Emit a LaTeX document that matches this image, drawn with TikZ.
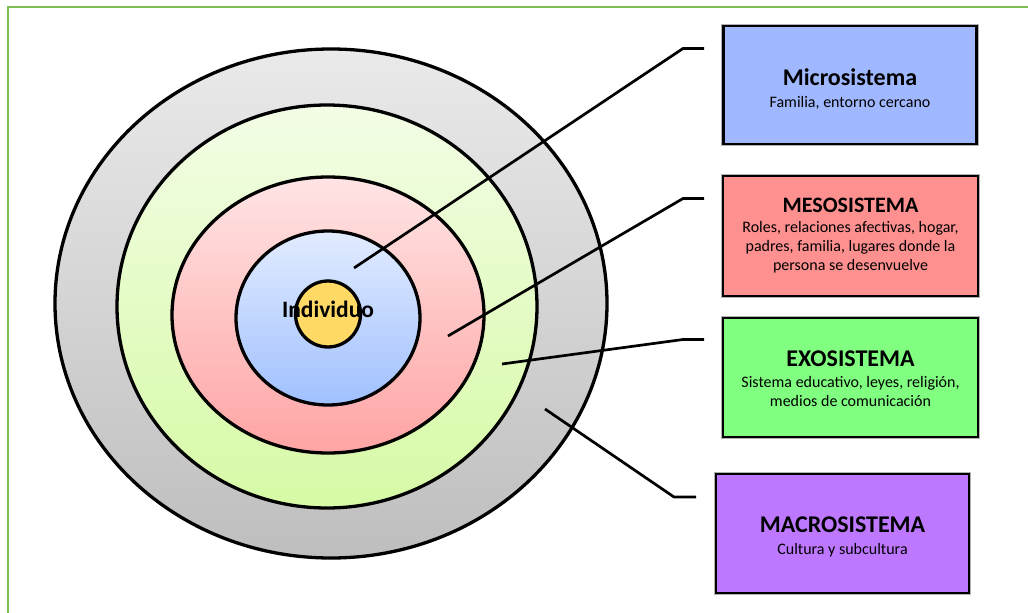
\documentclass[tikz,border=0pt]{standalone}
\usepackage{fontspec}
\setmainfont{Carlito}
\usetikzlibrary{shapes.geometric}
\definecolor{frameg}{RGB}{125,190,85}
\definecolor{grayT}{RGB}{234,234,234}
\definecolor{grayB}{RGB}{190,190,190}
\definecolor{greenT}{RGB}{243,253,230}
\definecolor{greenB}{RGB}{214,250,165}
\definecolor{pinkT}{RGB}{255,228,228}
\definecolor{pinkB}{RGB}{255,164,164}
\definecolor{blueT}{RGB}{226,236,255}
\definecolor{blueB}{RGB}{160,192,255}
\definecolor{yel}{RGB}{255,217,102}
\definecolor{microC}{RGB}{160,184,255}
\definecolor{mesoC}{RGB}{255,144,144}
\definecolor{exoC}{RGB}{128,255,128}
\definecolor{macroC}{RGB}{190,120,255}
\newcommand{\ttlfont}{\fontsize{24}{27}\selectfont\bfseries}
\newcommand{\bodyfont}{\fontsize{16}{19}\selectfont}
\tikzset{
  ring/.style={ellipse, draw=black, line width=3.3pt, inner sep=0pt, outer sep=0pt},
  sysbox/.style={rectangle, draw=black, line width=2.6pt, inner sep=0pt,
    preaction={draw=black!30, line width=4.2pt}},
  boxtext/.style={align=center, text=black, inner sep=0pt, font=\bodyfont},
  conn/.style={draw=black, line width=2.7pt},
}
\begin{document}
\begin{tikzpicture}[x=1pt,y=-1pt]
\useasboundingbox (0,0) rectangle (1028,613);
\clip (0,0) rectangle (1028,613);
\fill[white] (0,0) rectangle (1028,613);
\draw[frameg, line width=1.5pt] (8,650) -- (8,7) -- (1060,7);

% rings
\node[ring, top color=grayT, bottom color=grayB, minimum width=552pt, minimum height=509pt] (macroE) at (331,303.5) {};
\node[ring, top color=greenT, bottom color=greenB, minimum width=420pt, minimum height=403pt] (exoE) at (327,306.5) {};
\node[ring, top color=pinkT, bottom color=pinkB, minimum width=312pt, minimum height=276pt] (mesoE) at (328,315) {};
\node[ring, top color=blueT, bottom color=blueB, minimum width=184pt, minimum height=174pt] (microE) at (328,318) {};
\node[ring, fill=yel, minimum width=65pt, minimum height=66pt] (indE) at (328,314) {};
\node[font=\fontsize{23.5}{26}\selectfont\bfseries, text=black] (ind) at (328,309) {Individuo};

% boxes
\node[sysbox, fill=microC, minimum width=253pt, minimum height=118pt] (micro) at (850,85) {};
\node[boxtext] (microT) at (850,89)
  {{\ttlfont Microsistema}\\[3pt]Familia, entorno cercano};
\node[sysbox, fill=mesoC, minimum width=255pt, minimum height=120pt] (meso) at (850.5,236) {};
\node[boxtext] (mesoT) at (850.5,236)
  {{\fontsize{22}{24}\selectfont\bfseries MESOSISTEMA}\\[1pt]Roles, relaciones afectivas, hogar,\\padres, familia, lugares donde la\\persona se desenvuelve};
\node[sysbox, fill=exoC, minimum width=255pt, minimum height=119pt] (exo) at (850.5,377.5) {};
\node[boxtext] (exoT) at (850.5,379)
  {{\ttlfont EXOSISTEMA}\\[2pt]Sistema educativo, leyes, religión,\\medios de comunicación};
\node[sysbox, fill=macroC, minimum width=253pt, minimum height=119pt] (macro) at (842.5,533.5) {};
\node[boxtext] (macroT) at (842.5,537)
  {{\ttlfont MACROSISTEMA}\\[3pt]Cultura y subcultura};

% connector points
\coordinate (pMicro) at (354,268);
\coordinate (kMicro) at (683,48.5);
\coordinate (eMicro) at (704,48.5);
\coordinate (pMeso) at (448,336);
\coordinate (kMeso) at (683,198.5);
\coordinate (eMeso) at (704,198.5);
\coordinate (pExo) at (502,364);
\coordinate (kExo) at (683,339.5);
\coordinate (eExo) at (704,339.5);
\coordinate (pMacro) at (545,409);
\coordinate (kMacro) at (674,497);
\coordinate (eMacro) at (696,497);

\draw[conn] (pMicro) -- (kMicro) -- (eMicro);
\draw[conn] (pMeso) -- (kMeso) -- (eMeso);
\draw[conn] (pExo) -- (kExo) -- (eExo);
\draw[conn] (pMacro) -- (kMacro) -- (eMacro);
\end{tikzpicture}
\end{document}
